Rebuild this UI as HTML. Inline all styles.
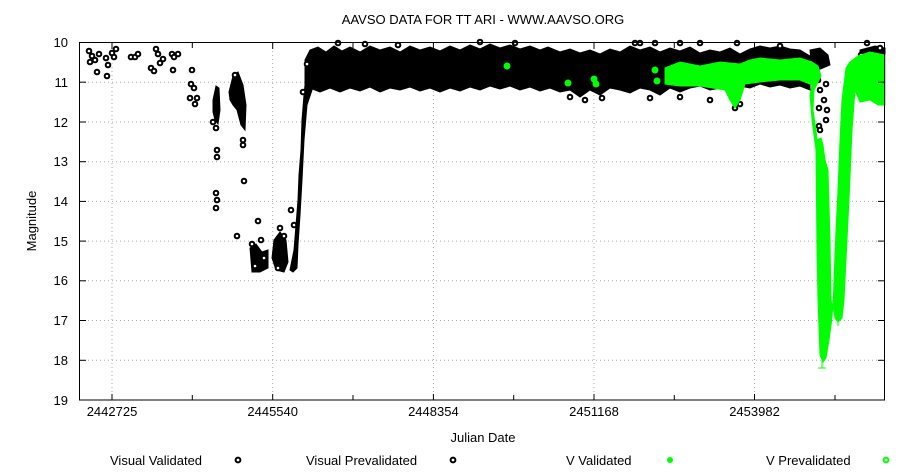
<!DOCTYPE html>
<html><head><meta charset="utf-8"><style>
html,body{margin:0;padding:0;background:#fff}
svg{display:block;font-family:"Liberation Sans",sans-serif}
</style></head><body>
<svg width="900" height="473" xmlns="http://www.w3.org/2000/svg">
<rect width="900" height="473" fill="#fff"/>
<g stroke="#aaa" stroke-width="1" stroke-dasharray="1,3">
<line x1="80" x2="884" y1="82.2" y2="82.2"/><line x1="80" x2="884" y1="122" y2="122"/>
<line x1="80" x2="884" y1="161.7" y2="161.7"/><line x1="80" x2="884" y1="201.4" y2="201.4"/>
<line x1="80" x2="884" y1="241.1" y2="241.1"/><line x1="80" x2="884" y1="280.8" y2="280.8"/>
<line x1="80" x2="884" y1="320.5" y2="320.5"/><line x1="80" x2="884" y1="360.3" y2="360.3"/>
<line x1="112" x2="112" y1="43" y2="400"/><line x1="272.7" x2="272.7" y1="43" y2="400"/>
<line x1="433.4" x2="433.4" y1="43" y2="400"/><line x1="594" x2="594" y1="43" y2="400"/>
<line x1="754.5" x2="754.5" y1="43" y2="400"/>
</g>
<!-- black data -->
<g fill="#000" stroke="#000" stroke-width="1">
<polygon points="305,60 310,50 318,47 326,52 334,46 342,51 350,47 360,52 370,46 380,50 390,47 400,52 410,46 420,50 430,47 440,51 450,46 460,50 470,45 480,49 490,44 500,48 510,45 520,49 530,46 540,50 548,47 560,52 570,49 580,53 590,50 600,54 610,49 620,52 630,46 640,50 650,47 660,52 670,48 680,51 690,47 700,53 710,50 720,52 730,48 740,54 750,49 760,46 770,48 780,46 790,49 800,50 810,56 810,90 800,86 790,88 780,85 770,87 760,84 750,88 740,86 730,92 720,88 710,90 700,86 690,88 680,92 670,88 660,95 650,90 640,88 630,93 620,90 610,88 600,95 590,90 580,97 570,90 560,92 550,88 540,91 530,87 520,90 510,86 500,89 490,86 480,90 470,87 460,91 450,88 440,92 430,88 420,91 410,87 400,90 390,88 380,92 370,87 360,91 350,88 340,92 330,88 320,92 310,88 305,86"/>
<polygon points="290,270 294,250 296,225 298,200 299,175 301,150 302,120 304,95 306,75 309,62 313,58 312,90 307,105 304,140 302,180 300,215 298,245 297,268 293,272"/>
<polygon points="229,92 233,76 238,72 243,85 246,105 245,130 241,125 237,110 233,105 230,100"/>
<polygon points="213,100 216,86 219,88 220,110 218,124 215,120 213,112"/>
<polygon points="250,248 256,244 262,252 268,250 268,268 260,272 252,272"/>
<polygon points="274,240 280,232 286,240 288,262 284,272 276,270 272,258"/>
<polygon points="810,50 820,48 828,55 830,65 818,70 812,72"/>
<polygon points="860,50 875,46 885,48 885,62 870,62 860,60"/>
</g>
<g fill="#fff" stroke="#000" stroke-width="2">
<circle cx="89" cy="51" r="2.3"/><circle cx="92" cy="56" r="2.3"/><circle cx="95" cy="60" r="2.3"/><circle cx="97" cy="72" r="2.3"/><circle cx="90" cy="62" r="2.3"/><circle cx="99" cy="54" r="2.3"/>
<circle cx="106" cy="58" r="2.3"/><circle cx="108" cy="65" r="2.3"/><circle cx="107" cy="76" r="2.3"/><circle cx="112" cy="53" r="2.3"/><circle cx="116" cy="49" r="2.3"/><circle cx="114" cy="57" r="2.3"/>
<circle cx="131" cy="57" r="2.3"/><circle cx="135" cy="57" r="2.3"/><circle cx="138" cy="54" r="2.3"/>
<circle cx="151" cy="68" r="2.3"/><circle cx="154" cy="71" r="2.3"/><circle cx="156" cy="49" r="2.3"/><circle cx="158" cy="54" r="2.3"/><circle cx="160" cy="63" r="2.3"/><circle cx="163" cy="59" r="2.3"/>
<circle cx="172" cy="54" r="2.3"/><circle cx="174" cy="57" r="2.3"/><circle cx="178" cy="54" r="2.3"/><circle cx="173" cy="70" r="2.3"/>
<circle cx="192" cy="70" r="2.3"/><circle cx="191" cy="84" r="2.3"/><circle cx="194" cy="88" r="2.3"/><circle cx="190" cy="98" r="2.3"/><circle cx="195" cy="104" r="2.3"/><circle cx="197" cy="98" r="2.3"/>
<circle cx="213" cy="122" r="2.3"/><circle cx="216" cy="128" r="2.3"/><circle cx="217" cy="150" r="2.3"/><circle cx="217" cy="157" r="2.3"/><circle cx="216" cy="193" r="2.3"/><circle cx="217" cy="200" r="2.3"/><circle cx="216" cy="208" r="2.3"/>
<circle cx="235" cy="75" r="2.3"/><circle cx="243" cy="140" r="2.3"/><circle cx="243" cy="145" r="2.3"/><circle cx="244" cy="181" r="2.3"/><circle cx="258" cy="221" r="2.3"/><circle cx="237" cy="236" r="2.3"/>
<circle cx="252" cy="244" r="2.3"/><circle cx="255" cy="266" r="2.3"/><circle cx="264" cy="258" r="2.3"/><circle cx="261" cy="240" r="2.3"/>
<circle cx="280" cy="228" r="2.3"/><circle cx="284" cy="236" r="2.3"/><circle cx="291" cy="210" r="2.3"/><circle cx="294" cy="225" r="2.3"/><circle cx="278" cy="268" r="2.3"/>
<circle cx="307" cy="64" r="2.3"/><circle cx="303" cy="92" r="2.3"/><circle cx="338" cy="43" r="2.3"/><circle cx="365" cy="44" r="2.3"/><circle cx="398" cy="45" r="2.3"/>
<circle cx="480" cy="42" r="2.3"/><circle cx="515" cy="43" r="2.3"/><circle cx="570" cy="97" r="2.3"/><circle cx="585" cy="100" r="2.3"/><circle cx="602" cy="98" r="2.3"/>
<circle cx="635" cy="43" r="2.3"/><circle cx="640" cy="43" r="2.3"/><circle cx="655" cy="43" r="2.3"/><circle cx="680" cy="43" r="2.3"/><circle cx="700" cy="43" r="2.3"/><circle cx="737" cy="43" r="2.3"/><circle cx="780" cy="46" r="2.3"/>
<circle cx="650" cy="98" r="2.3"/><circle cx="680" cy="97" r="2.3"/><circle cx="710" cy="100" r="2.3"/><circle cx="735" cy="108" r="2.3"/><circle cx="740" cy="104" r="2.3"/>
<circle cx="867" cy="43" r="2.3"/><circle cx="880" cy="48" r="2.3"/>
<circle cx="815" cy="72" r="2.3"/><circle cx="818" cy="80" r="2.3"/><circle cx="820" cy="90" r="2.3"/><circle cx="824" cy="100" r="2.3"/><circle cx="826" cy="84" r="2.3"/><circle cx="827" cy="110" r="2.3"/><circle cx="826" cy="120" r="2.3"/><circle cx="819" cy="108" r="2.3"/><circle cx="819" cy="126" r="2.3"/><circle cx="820" cy="130" r="2.3"/><circle cx="857" cy="70" r="2.3"/><circle cx="861" cy="55" r="2.3"/><circle cx="866" cy="90" r="2.3"/>
</g>
<!-- green data -->
<g fill="#0f0" stroke="#0f0" stroke-width="1">
<polygon points="665,68 680,62 700,66 720,62 740,64 750,60 760,58 780,60 800,58 812,62 812,85 800,80 780,80 760,82 745,84 740,100 735,108 730,100 725,90 700,86 680,86 665,84"/>
<polygon points="812,62 818,66 821,76 814,90 813,110 816,130 817,140 821,138 823,145 825,160 828,170 830,240 831,300 833,312 834,280 836,230 838,190 840,140 842,100 846,68 850,62 858,56 870,52 885,55 885,105 878,105 870,100 860,102 855,90 852,130 849,200 846,260 844,300 842,318 838,322 835,318 833,300 832,318 829,340 826,358 823,362 820,355 818,300 817,250 816,150 812,120 810,95 812,85"/>
<circle cx="507" cy="66" r="3"/><circle cx="568" cy="83" r="3"/><circle cx="594" cy="79" r="3"/><circle cx="596" cy="84" r="3"/><circle cx="655" cy="70" r="3"/><circle cx="657" cy="81" r="3"/>
<line x1="822" y1="360" x2="822" y2="368"/><line x1="818" y1="368" x2="826" y2="368"/><line x1="838" y1="322" x2="838" y2="326"/>
</g>
<rect x="79.5" y="42.5" width="805" height="357.5" fill="none" stroke="#000" stroke-width="1"/>
<g stroke="#000">
<line x1="80" x2="86" y1="42.5" y2="42.5"/><line x1="80" x2="86" y1="82.2" y2="82.2"/><line x1="80" x2="86" y1="122" y2="122"/><line x1="80" x2="86" y1="161.7" y2="161.7"/><line x1="80" x2="86" y1="201.4" y2="201.4"/><line x1="80" x2="86" y1="241.1" y2="241.1"/><line x1="80" x2="86" y1="280.8" y2="280.8"/><line x1="80" x2="86" y1="320.5" y2="320.5"/><line x1="80" x2="86" y1="360.3" y2="360.3"/>
<line x1="884" x2="878" y1="82.2" y2="82.2"/><line x1="884" x2="878" y1="122" y2="122"/><line x1="884" x2="878" y1="161.7" y2="161.7"/><line x1="884" x2="878" y1="201.4" y2="201.4"/><line x1="884" x2="878" y1="241.1" y2="241.1"/><line x1="884" x2="878" y1="280.8" y2="280.8"/><line x1="884" x2="878" y1="320.5" y2="320.5"/><line x1="884" x2="878" y1="360.3" y2="360.3"/>
<line x1="112" x2="112" y1="400" y2="394"/><line x1="272.7" x2="272.7" y1="400" y2="394"/><line x1="433.4" x2="433.4" y1="400" y2="394"/><line x1="594" x2="594" y1="400" y2="394"/><line x1="754.5" x2="754.5" y1="400" y2="394"/>
<line x1="192.3" x2="192.3" y1="400" y2="395"/><line x1="353" x2="353" y1="400" y2="395"/><line x1="513.7" x2="513.7" y1="400" y2="395"/><line x1="674.3" x2="674.3" y1="400" y2="395"/><line x1="835" x2="835" y1="400" y2="395"/>
<line x1="112" x2="112" y1="43" y2="49"/><line x1="272.7" x2="272.7" y1="43" y2="49"/><line x1="433.4" x2="433.4" y1="43" y2="49"/><line x1="594" x2="594" y1="43" y2="49"/><line x1="754.5" x2="754.5" y1="43" y2="49"/>
<line x1="192.3" x2="192.3" y1="43" y2="48"/><line x1="353" x2="353" y1="43" y2="48"/><line x1="513.7" x2="513.7" y1="43" y2="48"/><line x1="674.3" x2="674.3" y1="43" y2="48"/><line x1="835" x2="835" y1="43" y2="48"/>
</g>
<g font-size="13" fill="#000" text-anchor="end">
<text x="68" y="47">10</text><text x="68" y="87">11</text><text x="68" y="127">12</text><text x="68" y="166">13</text><text x="68" y="206">14</text><text x="68" y="246">15</text><text x="68" y="285">16</text><text x="68" y="325">17</text><text x="68" y="365">18</text><text x="68" y="405">19</text>
</g>
<g font-size="13" fill="#000" text-anchor="middle">
<text x="112" y="416">2442725</text><text x="272.7" y="416">2445540</text><text x="433.4" y="416">2448354</text><text x="594" y="416">2451168</text><text x="754.5" y="416">2453982</text>
</g>
<text x="483" y="24" font-size="13" text-anchor="middle">AAVSO DATA FOR TT ARI - WWW.AAVSO.ORG</text>
<text x="483" y="442" font-size="13" text-anchor="middle">Julian Date</text>
<text x="36" y="221" font-size="13" text-anchor="middle" transform="rotate(-90 36 221)">Magnitude</text>
<g font-size="13">
<text x="110" y="465">Visual Validated</text>
<text x="306" y="465">Visual Prevalidated</text>
<text x="566" y="465">V Validated</text>
<text x="766" y="465">V Prevalidated</text>
</g>
<circle cx="238" cy="460" r="2.4" fill="#fff" stroke="#000" stroke-width="2"/>
<circle cx="453" cy="460" r="2.4" fill="#fff" stroke="#000" stroke-width="2"/>
<circle cx="670" cy="460" r="3" fill="#0f0"/>
<circle cx="886" cy="460" r="2.4" fill="#fff" stroke="#0f0" stroke-width="2"/>
</svg>
</body></html>
